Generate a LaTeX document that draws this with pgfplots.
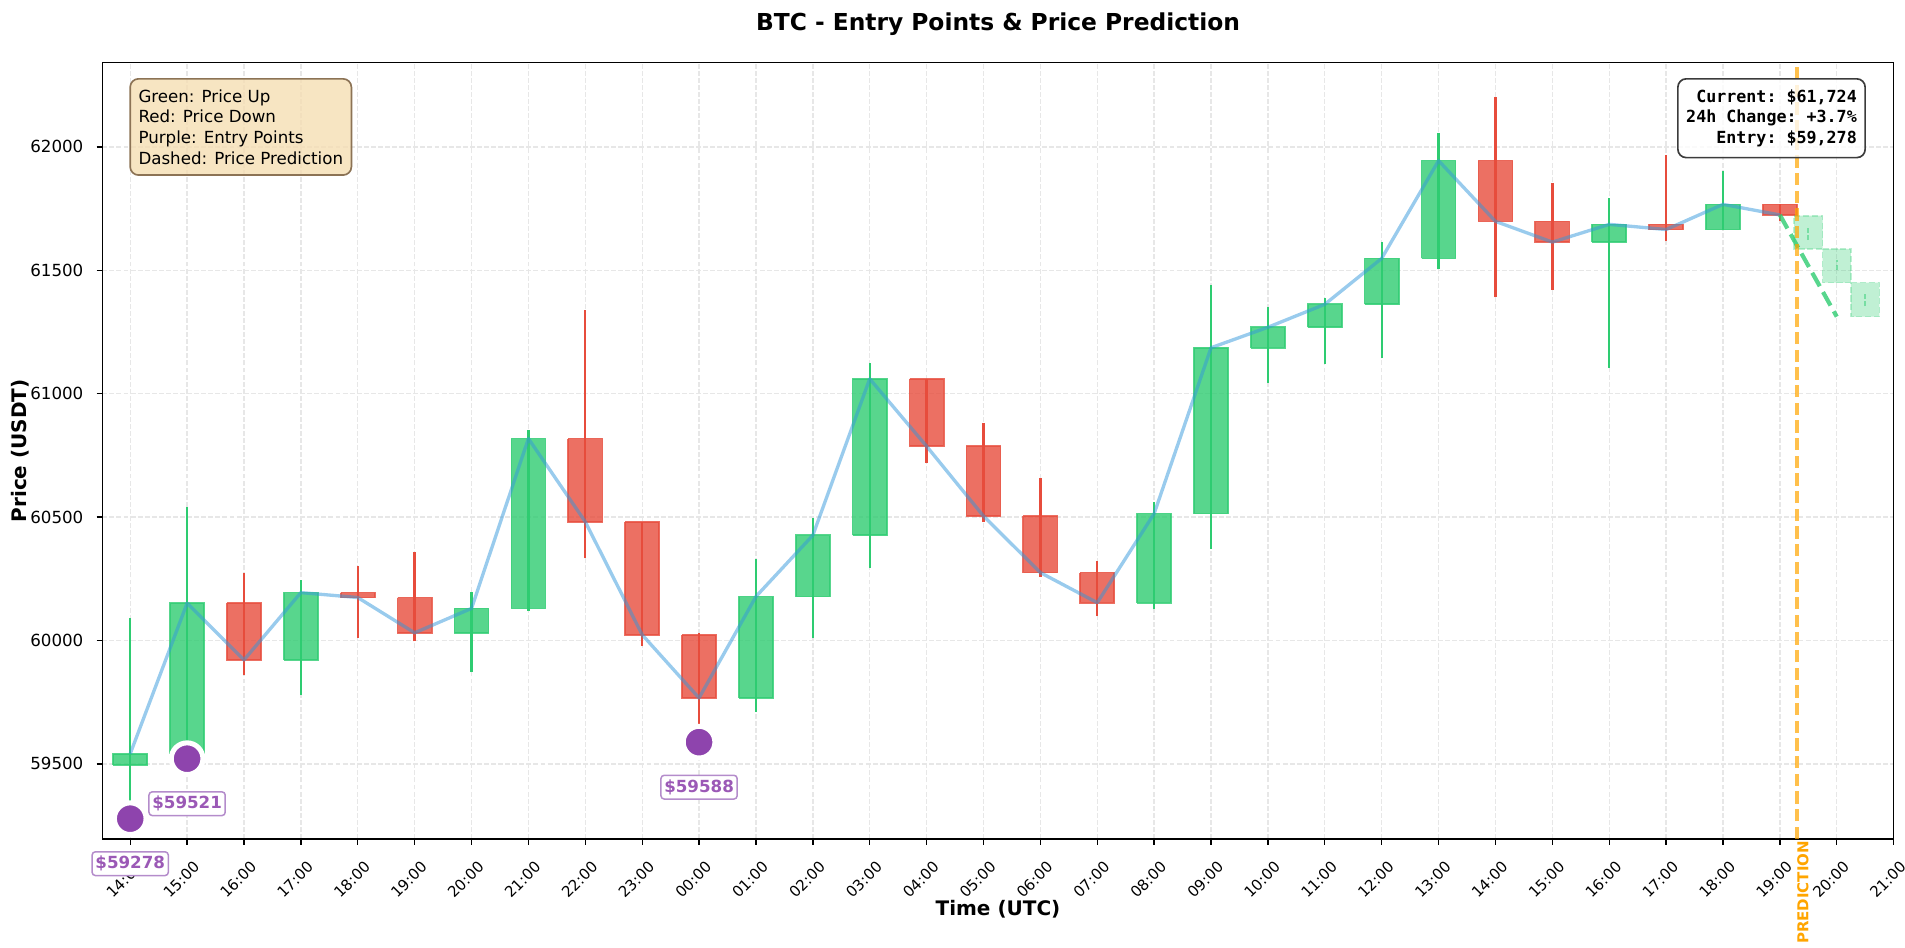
\documentclass[border=0pt]{standalone}
\usepackage{fontspec}
\setmainfont{DejaVu Sans}
\setmonofont{DejaVu Sans Mono}
\usepackage{pgfplots}
\pgfplotsset{compat=1.18}
\definecolor{G}{HTML}{2ECC71}
\definecolor{R}{HTML}{E74C3C}
\definecolor{P}{HTML}{8E44AD}
\definecolor{B}{HTML}{3498DB}
\definecolor{O}{HTML}{FFA500}
\definecolor{wheat}{HTML}{F5DEB3}
\definecolor{gridc}{HTML}{E7E7E7}
\definecolor{wheatedge}{RGB}{140,115,85}
\definecolor{statedge}{RGB}{60,60,60}
\definecolor{ptext}{RGB}{155,89,182}
\definecolor{pedge}{RGB}{180,140,203}
\begin{document}
\begin{tikzpicture}
\path[use as bounding box] (-61.4pt,-65.4pt) rectangle (1081.5pt,503.3pt);
\begin{axis}[
  name=ax, at={(0pt,0pt)}, anchor=south west,
  scale only axis, width=1074.7pt, height=465.7pt,
  xmin=-0.49, xmax=31, ymin=59196, ymax=62341,
  scaled y ticks=false, scaled x ticks=false,
  clip mode=individual,
  unbounded coords=jump,
  axis line style={line width=0.8pt, black},
  tick style={line width=0.8pt, black},
  major tick length=3.5pt,
  tick align=outside, tick pos=left,
  xtick={0,1,...,31},
  xticklabels={14:00,15:00,16:00,17:00,18:00,19:00,20:00,21:00,22:00,23:00,00:00,01:00,02:00,03:00,04:00,05:00,06:00,07:00,08:00,09:00,10:00,11:00,12:00,13:00,14:00,15:00,16:00,17:00,18:00,19:00,20:00,21:00},
  ytick={59500,60000,60500,61000,61500,62000},
  yticklabels={59500,60000,60500,61000,61500,62000},
  grid=major,
  major grid style={gridc, line width=0.8pt, dash pattern=on 2.96pt off 1.28pt},
  xticklabel style={font=\fontsize{9}{10.8}\selectfont, rotate=45, anchor=east, inner sep=0pt, xshift=-4.1pt, yshift=-12.3pt},
  yticklabel style={font=\fontsize{10}{12}\selectfont, anchor=east, inner sep=0pt, xshift=-7.7pt},
]
% wicks
\addplot[G, line width=1.4pt, mark=none] coordinates {(0,59351)(0,60093)(0,nan)(1,59530)(1,60539)(1,nan)(3,59781)(3,60244)(3,nan)(6,59872)(6,60198)(6,nan)(7,60120)(7,60851)(7,nan)(11,59711)(11,60329)(11,nan)(12,60010)(12,60498)(12,nan)(13,60295)(13,61126)(13,nan)(18,60126)(18,60560)(18,nan)(19,60372)(19,61442)(19,nan)(20,61045)(20,61353)(20,nan)(21,61122)(21,61388)(21,nan)(22,61143)(22,61616)(22,nan)(23,61504)(23,62058)(23,nan)(26,61105)(26,61793)(26,nan)(28,61663)(28,61903)};
\addplot[R, line width=1.4pt, mark=none] coordinates {(2,59860)(2,60275)(2,nan)(4,60012)(4,60302)(4,nan)(5,59996)(5,60357)(5,nan)(8,60333)(8,61337)(8,nan)(9,59979)(9,60481)(9,nan)(10,59663)(10,60031)(10,nan)(14,60721)(14,61060)(14,nan)(15,60481)(15,60880)(15,nan)(16,60258)(16,60657)(16,nan)(17,60099)(17,60320)(17,nan)(24,61390)(24,62202)(24,nan)(25,61421)(25,61855)(25,nan)(27,61618)(27,61967)(27,nan)(29,61700)(29,61767)};
% bodies
\addplot[draw=G, fill=G, fill opacity=0.8, draw opacity=0.8, line width=1pt, mark=none] coordinates {
(-0.3,59496)(0.3,59496)(0.3,59541)(-0.3,59541)(-0.3,59496)(0,nan)
(0.7,59541)(1.3,59541)(1.3,60151)(0.7,60151)(0.7,59541)(1,nan)
(2.7,59921)(3.3,59921)(3.3,60194)(2.7,60194)(2.7,59921)(3,nan)
(5.7,60031)(6.3,60031)(6.3,60130)(5.7,60130)(5.7,60031)(6,nan)
(6.7,60130)(7.3,60130)(7.3,60818)(6.7,60818)(6.7,60130)(7,nan)
(10.7,59767)(11.3,59767)(11.3,60178)(10.7,60178)(10.7,59767)(11,nan)
(11.7,60178)(12.3,60178)(12.3,60426)(11.7,60426)(11.7,60178)(12,nan)
(12.7,60426)(13.3,60426)(13.3,61060)(12.7,61060)(12.7,60426)(13,nan)
(17.7,60153)(18.3,60153)(18.3,60514)(17.7,60514)(17.7,60153)(18,nan)
(18.7,60514)(19.3,60514)(19.3,61186)(18.7,61186)(18.7,60514)(19,nan)
(19.7,61186)(20.3,61186)(20.3,61269)(19.7,61269)(19.7,61186)(20,nan)
(20.7,61269)(21.3,61269)(21.3,61362)(20.7,61362)(20.7,61269)(21,nan)
(21.7,61362)(22.3,61362)(22.3,61548)(21.7,61548)(21.7,61362)(22,nan)
(22.7,61548)(23.3,61548)(23.3,61944)(22.7,61944)(22.7,61548)(23,nan)
(25.7,61614)(26.3,61614)(26.3,61686)(25.7,61686)(25.7,61614)(26,nan)
(27.7,61665)(28.3,61665)(28.3,61767)(27.7,61767)(27.7,61665)};
\addplot[draw=R, fill=R, fill opacity=0.8, draw opacity=0.8, line width=1pt, mark=none] coordinates {
(1.7,60151)(2.3,60151)(2.3,59921)(1.7,59921)(1.7,60151)(2,nan)
(3.7,60194)(4.3,60194)(4.3,60174)(3.7,60174)(3.7,60194)(4,nan)
(4.7,60174)(5.3,60174)(5.3,60031)(4.7,60031)(4.7,60174)(5,nan)
(7.7,60818)(8.3,60818)(8.3,60481)(7.7,60481)(7.7,60818)(8,nan)
(8.7,60481)(9.3,60481)(9.3,60023)(8.7,60023)(8.7,60481)(9,nan)
(9.7,60023)(10.3,60023)(10.3,59767)(9.7,59767)(9.7,60023)(10,nan)
(13.7,61060)(14.3,61060)(14.3,60787)(13.7,60787)(13.7,61060)(14,nan)
(14.7,60787)(15.3,60787)(15.3,60504)(14.7,60504)(14.7,60787)(15,nan)
(15.7,60504)(16.3,60504)(16.3,60275)(15.7,60275)(15.7,60504)(16,nan)
(16.7,60275)(17.3,60275)(17.3,60153)(16.7,60153)(16.7,60275)(17,nan)
(23.7,61944)(24.3,61944)(24.3,61698)(23.7,61698)(23.7,61944)(24,nan)
(24.7,61698)(25.3,61698)(25.3,61614)(24.7,61614)(24.7,61698)(25,nan)
(26.7,61686)(27.3,61686)(27.3,61665)(26.7,61665)(26.7,61686)(27,nan)
(28.7,61767)(29.3,61767)(29.3,61724)(28.7,61724)(28.7,61767)};
% close line
\addplot[B, opacity=0.5, line width=2pt, mark=none, line join=round] coordinates {(0,59541)(1,60151)(2,59921)(3,60194)(4,60174)(5,60031)(6,60130)(7,60818)(8,60481)(9,60023)(10,59767)(11,60178)(12,60426)(13,61060)(14,60787)(15,60504)(16,60275)(17,60153)(18,60514)(19,61186)(20,61269)(21,61362)(22,61548)(23,61944)(24,61698)(25,61614)(26,61686)(27,61665)(28,61767)(29,61724)};
% prediction candles
\addplot[draw=G, fill=G, fill opacity=0.3, draw opacity=0.3, line width=1pt, dash pattern=on 3.7pt off 1.6pt, mark=none] coordinates {
(29.25,61721)(29.75,61721)(29.75,61587)(29.25,61587)(29.25,61721)(29.5,nan)
(29.75,61587)(30.25,61587)(30.25,61450)(29.75,61450)(29.75,61587)(30,nan)
(30.25,61450)(30.75,61450)(30.75,61312)(30.25,61312)(30.25,61450)};
\addplot[G, opacity=0.5, line width=1.3pt, dash pattern=on 3pt off 1.5pt, mark=none] coordinates {(29.5,61622)(29.5,61682)(29.5,nan)(30,61501)(30,61542)(30,nan)(30.5,61354)(30.5,61408)};
% prediction line
\addplot[G, opacity=0.8, line width=2.5pt, dash pattern=on 9.25pt off 4pt, mark=none] coordinates {(29,61724)(30,61312)};
% prediction divider
\addplot[O, opacity=0.7, line width=2pt, dash pattern=on 7.4pt off 3.2pt, mark=none] coordinates {(29.3,59196)(29.3,62341)};
% entry points
\addplot[only marks, mark=*, mark size=9.5pt, mark options={fill=P, draw=white, line width=3pt}] coordinates {(0,59278)(1,59521)(10,59588)};
\coordinate (e0) at (axis cs:0,59278);
\coordinate (e1) at (axis cs:1,59521);
\coordinate (e2) at (axis cs:10,59588);
\coordinate (pl) at (axis cs:29.3,59196);
\end{axis}
% titles and labels
\node[font=\fontsize{14}{16.8}\selectfont\bfseries, anchor=base] at ([yshift=19.4pt]ax.north) {BTC - Entry Points \& Price Prediction};
\node[font=\fontsize{12}{14.4}\selectfont\bfseries, anchor=base] at ([yshift=-46pt]ax.south) {Time (UTC)};
\node[font=\fontsize{12}{14.4}\selectfont\bfseries, anchor=base, rotate=90] at ([xshift=-45.6pt]ax.west) {Price (USDT)};
% info boxes
\node[anchor=north west, align=left, font=\fontsize{10}{12.4}\selectfont, fill=wheat, fill opacity=0.8, text opacity=1, draw=wheatedge, line width=1pt, rounded corners=5pt, inner xsep=5pt, inner ysep=6.4pt] at ([xshift=16.2pt, yshift=-9.2pt]ax.north west) {Green: Price Up\\Red: Price Down\\Purple: Entry Points\\Dashed: Price Prediction};
\node[anchor=north east, align=right, font=\fontsize{10}{12.4}\selectfont\ttfamily\bfseries, fill=white, fill opacity=0.8, text opacity=1, draw=statedge, line width=1pt, rounded corners=5pt, inner xsep=5pt, inner ysep=6.4pt] at ([xshift=-16.6pt, yshift=-9.2pt]ax.north east) {Current: \$61,724\\24h Change: +3.7\%\\Entry: \$59,278};
% entry labels
\foreach \c/\t in {e0/59278, e1/59521, e2/59588}{
  \node[font=\fontsize{10}{12}\selectfont\bfseries, text=ptext, fill=white, draw=pedge, line width=0.9pt, rounded corners=2pt, inner xsep=2pt, inner ysep=2.6pt] at ([yshift=-27pt]\c) {\$\t};
}
% prediction label
\node[font=\fontsize{9}{10.8}\selectfont\bfseries, text=O, rotate=90, anchor=north east, inner sep=0pt] at ([yshift=-1pt]pl) {PREDICTION};
\end{tikzpicture}
\end{document}
